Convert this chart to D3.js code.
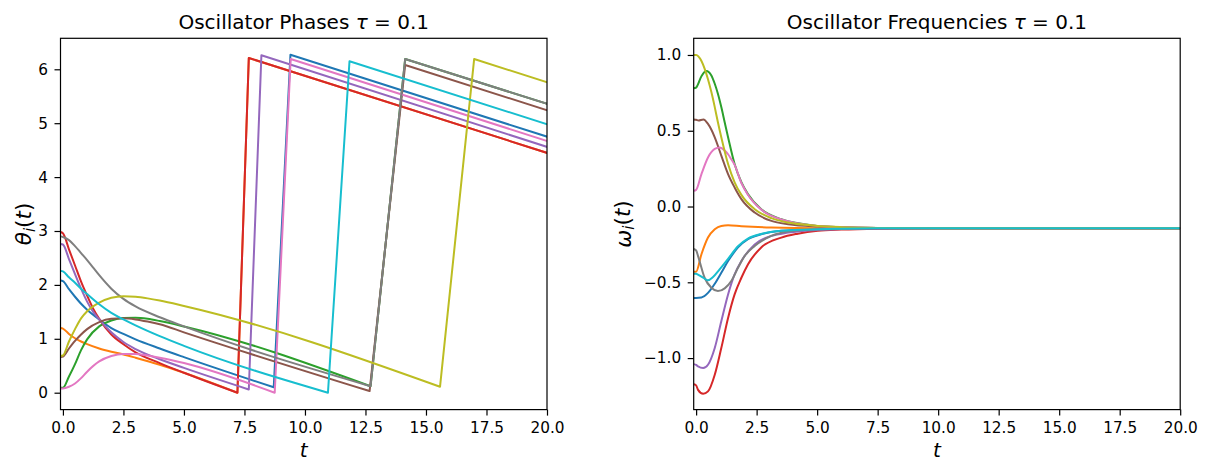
<!DOCTYPE html>
<html><head><meta charset="utf-8">
<script src="https://cdn.jsdelivr.net/npm/d3@7/dist/d3.min.js"></script>
<style>body{margin:0;background:#fff} svg text{font-family:"DejaVu Sans",sans-serif;fill:#000}</style>
</head><body><svg id="c" width="1207" height="463"></svg>
<script>
const colors = ["#1f77b4","#ff7f0e","#2ca02c","#d62728","#9467bd","#8c564b","#e377c2","#7f7f7f","#bcbd22","#17becf"];
const xTicks = [0,2.5,5,7.5,10,12.5,15,17.5,20];
const xTickLabels = ["0.0","2.5","5.0","7.5","10.0","12.5","15.0","17.5","20.0"];
const phaseTicks = [0,1,2,3,4,5,6];
const phaseTickLabels = ["0","1","2","3","4","5","6"];
const freqTicks = [-1,-0.5,0,0.5,1];
const freqTickLabels = ["\u22121.0","\u22120.5","0.0","0.5","1.0"];

// phases theta_i(t): [t, theta]
const phaseBlue   = [[-0.1,2.08],[0,2.07],[0.25,1.92],[0.5,1.78],[0.75,1.65],[1,1.54],[1.5,1.36],[2,1.2],[2.5,1.09],[3,0.99],[4,0.82],[5,0.66],[8.71,0.10],[9.40,6.27],[20,4.75]];
const phaseOrange = [[-0.1,1.2],[0,1.19],[0.25,1.09],[0.5,1.01],[0.75,0.95],[1,0.9],[1.5,0.82],[2,0.76],[2.5,0.71],[3,0.65],[4,0.52],[5,0.37],[7.21,0.0],[7.68,6.21],[20,4.45]];
const phaseGreen  = [[-0.1,0.09],[0,0.09],[0.25,0.3],[0.5,0.53],[0.75,0.79],[1,0.99],[1.5,1.23],[2,1.34],[2.5,1.385],[3,1.39],[3.5,1.37],[4,1.33],[5,1.23],[12.71,0.12],[14.14,6.19],[20,5.36]];
const phaseRed    = [[-0.1,2.98],[0,2.96],[0.25,2.66],[0.5,2.36],[0.75,2.06],[1,1.8],[1.25,1.56],[1.5,1.37],[2,1.08],[2.5,0.9],[3,0.75],[4,0.55],[5,0.37],[7.21,0.0],[7.68,6.21],[20,4.45]];
const phasePurple = [[-0.1,2.76],[0,2.75],[0.25,2.48],[0.5,2.2],[0.75,1.93],[1,1.69],[1.25,1.5],[1.5,1.36],[2,1.12],[2.5,0.94],[3,0.81],[4,0.62],[5,0.46],[7.68,0.06],[8.2,6.26],[20,4.56]];
const phaseBrown  = [[-0.1,0.66],[0,0.67],[0.25,0.82],[0.5,0.96],[0.75,1.08],[1,1.18],[1.5,1.31],[2,1.37],[2.5,1.38],[3,1.36],[3.5,1.32],[4,1.27],[5,1.12],[12.67,0.03],[14.14,6.08],[20,5.24]];
const phasePink   = [[-0.1,0.08],[0,0.08],[0.25,0.11],[0.5,0.17],[0.75,0.27],[1,0.39],[1.5,0.58],[2,0.68],[2.5,0.72],[3,0.72],[3.5,0.69],[4,0.65],[5,0.55],[8.75,0.0],[9.41,6.19],[20,4.67]];
const phaseGray   = [[-0.1,2.9],[0,2.89],[0.25,2.83],[0.5,2.72],[0.75,2.59],[1,2.46],[1.25,2.32],[1.5,2.18],[2,1.93],[2.5,1.74],[3,1.6],[4,1.4],[5,1.23],[12.71,0.12],[14.14,6.19],[20,5.36]];
const phaseOlive  = [[-0.1,0.68],[0,0.69],[0.25,0.95],[0.5,1.18],[0.75,1.38],[1,1.51],[1.5,1.67],[2,1.76],[2.5,1.79],[3,1.78],[3.5,1.75],[4,1.71],[5,1.61],[15.58,0.11],[16.99,6.19],[20,5.76]];
const phaseCyan   = [[-0.1,2.26],[0,2.25],[0.25,2.14],[0.5,2.04],[0.75,1.93],[1,1.83],[1.5,1.64],[2,1.48],[2.5,1.36],[3,1.25],[4,1.05],[5,0.87],[10.95,0.0],[11.84,6.15],[20,4.98]];

// frequencies omega_i(t): [t, omega]
const freqBlue   = [[-0.1,-0.603],[0,-0.603],[0.22,-0.6],[0.49,-0.57],[0.77,-0.51],[1.04,-0.437],[1.32,-0.36],[1.73,-0.27],[2.14,-0.216],[2.69,-0.183],[3.52,-0.16],[5.03,-0.15],[6,-0.147],[7.5,-0.144],[10,-0.143],[20,-0.143]];
const freqOrange = [[-0.1,-0.43],[0,-0.43],[0.22,-0.315],[0.49,-0.205],[0.77,-0.15],[1.04,-0.128],[1.32,-0.124],[1.87,-0.13],[3.11,-0.139],[5.03,-0.144],[7.5,-0.143],[10,-0.143],[20,-0.143]];
const freqGreen  = [[-0.1,0.78],[0,0.785],[0.22,0.86],[0.42,0.894],[0.63,0.865],[0.77,0.81],[0.9,0.744],[1.04,0.656],[1.18,0.556],[1.32,0.457],[1.59,0.28],[1.87,0.16],[2.14,0.082],[2.69,-0.018],[3.52,-0.084],[5.03,-0.128],[6,-0.136],[7.5,-0.141],[10,-0.143],[20,-0.143]];
const freqRed    = [[-0.1,-1.172],[0,-1.18],[0.08,-1.21],[0.29,-1.236],[0.49,-1.22],[0.77,-1.11],[1.04,-0.934],[1.32,-0.735],[1.59,-0.58],[1.87,-0.47],[2.14,-0.382],[2.69,-0.27],[3.52,-0.205],[4.2,-0.179],[5.03,-0.16],[6,-0.152],[7.5,-0.146],[10,-0.143],[20,-0.143]];
const freqPurple = [[-0.1,-1.04],[0,-1.045],[0.08,-1.055],[0.29,-1.066],[0.49,-1.044],[0.77,-0.933],[1.04,-0.757],[1.32,-0.58],[1.59,-0.448],[1.87,-0.36],[2.42,-0.25],[3.11,-0.194],[3.8,-0.172],[5.03,-0.154],[6,-0.149],[7.5,-0.145],[10,-0.143],[20,-0.143]];
const freqBrown  = [[-0.1,0.574],[0,0.572],[0.1,0.567],[0.3,0.574],[0.49,0.545],[0.77,0.457],[1.04,0.336],[1.32,0.214],[1.59,0.126],[1.87,0.049],[2.42,-0.04],[3.11,-0.095],[3.8,-0.117],[5.03,-0.132],[6,-0.137],[7.5,-0.141],[10,-0.143],[20,-0.143]];
const freqPink   = [[-0.1,0.104],[0,0.11],[0.22,0.214],[0.49,0.324],[0.77,0.38],[0.97,0.39],[1.18,0.37],[1.32,0.345],[1.46,0.31],[1.59,0.275],[1.87,0.155],[2.14,0.078],[2.69,-0.02],[3.52,-0.085],[5.03,-0.128],[6,-0.136],[7.5,-0.141],[10,-0.143],[20,-0.143]];
const freqGray   = [[-0.1,-0.28],[0,-0.29],[0.08,-0.327],[0.35,-0.47],[0.63,-0.536],[0.9,-0.558],[1.18,-0.54],[1.46,-0.49],[1.73,-0.404],[2.0,-0.327],[2.42,-0.26],[3.11,-0.194],[3.8,-0.165],[5.03,-0.15],[6,-0.147],[7.5,-0.144],[10,-0.143],[20,-0.143]];
const freqOlive  = [[-0.1,1.0],[0,1.0],[0.22,0.96],[0.35,0.91],[0.49,0.84],[0.63,0.755],[0.77,0.656],[0.9,0.556],[1.04,0.457],[1.32,0.28],[1.59,0.16],[1.87,0.077],[2.42,-0.018],[3.11,-0.077],[3.8,-0.106],[5.03,-0.128],[6,-0.136],[7.5,-0.141],[10,-0.143],[20,-0.143]];
const freqCyan   = [[-0.1,-0.444],[0,-0.444],[0.08,-0.45],[0.29,-0.47],[0.49,-0.487],[0.7,-0.465],[0.97,-0.415],[1.32,-0.345],[1.73,-0.262],[2.14,-0.212],[2.69,-0.181],[3.52,-0.16],[5.03,-0.15],[6,-0.147],[7.5,-0.144],[10,-0.143],[20,-0.143]];

const phases = [phaseBlue,phaseOrange,phaseGreen,phaseRed,phasePurple,phaseBrown,phasePink,phaseGray,phaseOlive,phaseCyan];
const freqs  = [freqBlue,freqOrange,freqGreen,freqRed,freqPurple,freqBrown,freqPink,freqGray,freqOlive,freqCyan];

const svg = d3.select("#c");
const axTop = 38.3, axBottom = 409.6;
const tickLen = 6, tickFont = 15.3, titleFont = 20, labelFont = 21.5;

function panel(opts){
  const {x0, x1, yDomain, yTicks, yTickLabels, title, ylab, id} = opts;
  const x = d3.scaleLinear().domain([-0.1, 20]).range([x0, x1]);
  const y = d3.scaleLinear().domain(yDomain).range([axBottom, axTop]);
  const g = svg.append("g");
  g.append("clipPath").attr("id", id).append("rect")
    .attr("x", x0).attr("y", axTop).attr("width", x1 - x0).attr("height", axBottom - axTop);
  const plot = g.append("g").attr("clip-path", `url(#${id})`);

  const xa = g.append("g").attr("transform", `translate(0,${axBottom})`)
    .call(d3.axisBottom(x).tickValues(xTicks).tickFormat((d,i)=>xTickLabels[i]).tickSize(tickLen).tickPadding(0));
  const ya = g.append("g").attr("transform", `translate(${x0},0)`)
    .call(d3.axisLeft(y).tickValues(yTicks).tickFormat((d,i)=>yTickLabels[i]).tickSize(tickLen).tickPadding(6.5));
  [xa, ya].forEach(a => {
    a.select(".domain").remove();
    a.selectAll(".tick line").attr("stroke", "#000").attr("stroke-width", 1.2);
    a.selectAll(".tick text").attr("font-size", tickFont).attr("font-family", "DejaVu Sans").attr("fill", "#000");
  });
  xa.selectAll(".tick text").attr("y", 433.5 - axBottom).attr("dy", null);
  g.append("rect").attr("x", x0).attr("y", axTop).attr("width", x1 - x0).attr("height", axBottom - axTop)
    .attr("fill", "none").attr("stroke", "#000").attr("stroke-width", 1.2);

  const tt = g.append("text").attr("x", (x0 + x1) / 2).attr("y", 29).attr("text-anchor", "middle").attr("font-size", titleFont);
  tt.append("tspan").text(title + " ");
  tt.append("tspan").attr("font-style", "italic").text("\u03c4");
  tt.append("tspan").text(" = 0.1");

  g.append("text").attr("x", (x0 + x1) / 2).attr("y", 456.5).attr("text-anchor", "middle")
    .attr("font-size", 20).attr("font-style", "italic").text("t");

  const yl = g.append("text").attr("transform", `translate(${opts.ylabX},${(axTop + axBottom) / 2}) rotate(-90)`)
    .attr("text-anchor", "middle").attr("dy", "0.35em").attr("font-size", labelFont);
  yl.append("tspan").attr("font-style", "italic").text(ylab);
  yl.append("tspan").attr("font-style", "italic").attr("font-size", labelFont * 0.7).attr("dy", "0.25em").text("i");
  yl.append("tspan").attr("dy", "-0.18em").text("(");
  yl.append("tspan").attr("font-style", "italic").text("t");
  yl.append("tspan").text(")");

  return {x, y, plot};
}

const L = panel({x0:60.5, x1:547, yDomain:[-0.3135, 6.575], yTicks:phaseTicks, yTickLabels:phaseTickLabels,
  title:"Oscillator Phases", ylab:"\u03b8", id:"clipL", ylabX:23.5});
const R = panel({x0:693.7, x1:1180.2, yDomain:[-1.340, 1.11], yTicks:freqTicks, yTickLabels:freqTickLabels,
  title:"Oscillator Frequencies", ylab:"\u03c9", id:"clipR", ylabX:623});

const smoothL = d3.line().x(d => L.x(d[0])).y(d => L.y(d[1])).curve(d3.curveMonotoneX);
function phasePath(pts){
  const pieces = [[pts[0]]];
  for (let i = 1; i < pts.length; i++){
    if (pts[i][1] - pts[i-1][1] > 3) pieces.push([]);
    pieces[pieces.length - 1].push(pts[i]);
  }
  return pieces.map((p, i) => {
    const s = p.length > 1 ? smoothL(p) : `M${L.x(p[0][0])},${L.y(p[0][1])}`;
    return i ? "L" + s.slice(1) : s;
  }).join("");
}
phases.forEach((s, i) => {
  L.plot.append("path").attr("d", phasePath(s)).attr("fill", "none")
    .attr("stroke", colors[i]).attr("stroke-width", 2).attr("stroke-linejoin", "round").attr("stroke-linecap", "square");
});

const smoothR = d3.line().x(d => R.x(d[0])).y(d => R.y(d[1])).curve(d3.curveMonotoneX);
freqs.forEach((s, i) => {
  R.plot.append("path").attr("d", smoothR(s)).attr("fill", "none")
    .attr("stroke", colors[i]).attr("stroke-width", 2).attr("stroke-linejoin", "round");
});
</script></body></html>
